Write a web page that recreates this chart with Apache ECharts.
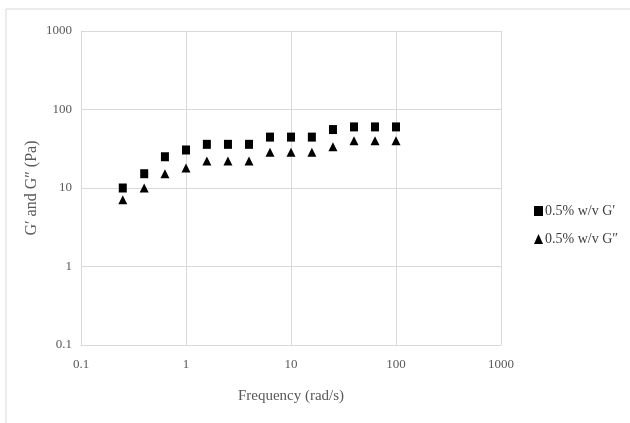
<!DOCTYPE html>
<html>
<head>
<meta charset="utf-8">
<script src="https://cdn.jsdelivr.net/npm/echarts@6/dist/echarts.min.js"></script>
<style>
  html, body { margin: 0; padding: 0; background: #fff; }
  #chart { width: 630px; height: 423px; }
</style>
</head>
<body>
<div id="chart"></div>
<script>
// ---------- data ----------
var freq = [0.25, 0.4, 0.63, 1, 1.58, 2.51, 3.98, 6.31, 10, 15.8, 25.1, 39.8, 63.1, 100];
var gPrime = [10, 15.2, 25, 30.5, 36, 36, 36, 44.5, 44.5, 44.5, 55.5, 60, 60, 60];
var gDouble = [7.1, 10, 15.2, 18, 22, 22, 22, 28.5, 28.5, 28.5, 33.5, 40, 40, 40];
var seriesNames = ['0.5% w/v G\u2032', '0.5% w/v G\u2033'];

(function () {
  'use strict';

  var chart = echarts.init(document.getElementById('chart'));
  var grey = '#595959';
  var lineGrey = '#d9d9d9';
  var font = '"Liberation Serif", "Times New Roman", serif';

  function pairs(xs, ys) {
    return xs.map(function (x, i) { return [x, ys[i]]; });
  }

  function axisLabelFmt(v) {
    return String(Number(v.toPrecision(6)));
  }

  var option = {
    animation: false,
    textStyle: { fontFamily: font },
    graphic: [{
      type: 'rect',
      shape: { x: 6, y: 9, width: 640, height: 430 },
      style: { fill: 'none', stroke: lineGrey, lineWidth: 1 },
      silent: true
    }],
    grid: { left: 81, top: 31, width: 420, height: 314 },
    legend: {
      orient: 'vertical',
      left: 529,
      top: 199,
      itemWidth: 9,
      itemHeight: 10,
      itemGap: 14,
      textStyle: { color: '#404040', fontSize: 14, fontFamily: font, padding: [0, 0, 0, -3] },
      data: seriesNames
    },
    xAxis: {
      type: 'log',
      logBase: 10,
      min: 0.1,
      max: 1000,
      name: 'Frequency (rad/s)',
      nameLocation: 'middle',
      nameGap: 44,
      nameMoveOverlap: false,
      nameTextStyle: { color: grey, fontSize: 15, fontFamily: font },
      axisLine: { show: true, lineStyle: { color: lineGrey } },
      axisTick: { show: false },
      axisLabel: { color: grey, fontSize: 13, margin: 13, formatter: axisLabelFmt },
      splitLine: { show: true, lineStyle: { color: lineGrey } },
      minorTick: { show: false }
    },
    yAxis: {
      type: 'log',
      logBase: 10,
      min: 0.1,
      max: 1000,
      name: 'G\u2032 and G\u2033 (Pa)',
      nameLocation: 'middle',
      nameRotate: 90,
      nameGap: 41,
      nameMoveOverlap: false,
      nameTextStyle: { color: grey, fontSize: 16, fontFamily: font },
      axisLine: { show: true, lineStyle: { color: lineGrey } },
      axisTick: { show: false },
      axisLabel: { color: grey, fontSize: 13, margin: 9, formatter: axisLabelFmt },
      splitLine: { show: true, lineStyle: { color: lineGrey } }
    },
    series: [
      {
        name: seriesNames[0],
        type: 'scatter',
        symbol: 'rect',
        symbolSize: [8, 9],
        itemStyle: { color: '#000', opacity: 1 },
        data: pairs(freq, gPrime)
      },
      {
        name: seriesNames[1],
        type: 'scatter',
        symbol: 'triangle',
        symbolSize: [9, 9],
        itemStyle: { color: '#000', opacity: 1 },
        data: pairs(freq, gDouble)
      }
    ]
  };

  chart.setOption(option);
})();
</script>
</body>
</html>
